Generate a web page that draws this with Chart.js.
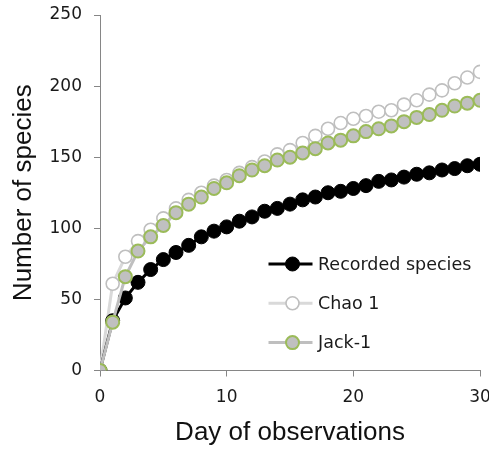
<!DOCTYPE html>
<html>
<head>
<meta charset="utf-8">
<script src="https://cdn.jsdelivr.net/npm/chart.js@4/dist/chart.umd.min.js"></script>
<style>
  html, body { margin: 0; padding: 0; background: #fff; overflow: hidden; }
  #wrap { width: 500px; height: 450px; position: relative; }
</style>
</head>
<body>
<div id="wrap"><canvas id="c" width="500" height="450"></canvas></div>
<script>
// Observation days
const days = [0, 1, 2, 3, 4, 5, 6, 7, 8, 9, 10, 11, 12, 13, 14, 15, 16, 17, 18, 19, 20,
              21, 22, 23, 24, 25, 26, 27, 28, 29, 30];

// Cumulative number of species recorded
const recorded = [0, 35, 51, 62, 71, 78, 83, 88, 94, 98, 101, 105, 108, 112, 114, 117, 120, 122, 125, 126, 128,
                  130, 133, 134, 136, 138, 139, 141, 142, 144, 145];

// Chao 1 richness estimator
const chao1 = [0, 61, 80, 91, 99, 107, 114, 120, 125, 130, 134, 139, 143, 147, 152, 155, 160, 165, 170, 174, 177,
               179, 182, 183, 187, 190, 194, 197, 202, 206, 210];

// First-order jackknife estimator
const jack1 = [0, 34, 66, 84, 94, 102, 111, 117, 122, 128, 132, 137, 141, 144, 148, 150, 153, 156, 160, 162, 165,
               168, 170, 172, 175, 178, 180, 183, 186, 188, 190];

const seriesNames = ['Recorded species', 'Chao 1', 'Jack-1'];
const xTicks = [0, 10, 20, 30];
const yTicks = [0, 50, 100, 150, 200, 250];

const toPoints = vals => days.map((d, i) => ({ x: d, y: vals[i] }));

// Legend drawn inside the plot: line sample with the marker on it, then the name
const insideLegend = {
  id: 'insideLegend',
  afterDatasetsDraw(chart) {
    const ctx = chart.ctx;
    const a = chart.chartArea;
    ctx.save();
    chart.data.datasets.forEach((ds, i) => {
      const y = a.top + 249 + i * 39.3;
      const x0 = a.left + 168.5;
      ctx.beginPath();
      ctx.moveTo(x0, y);
      ctx.lineTo(x0 + 44, y);
      ctx.strokeStyle = ds.borderColor;
      ctx.lineWidth = ds.borderWidth;
      ctx.stroke();
      ctx.beginPath();
      ctx.arc(x0 + 24, y, ds.pointRadius, 0, Math.PI * 2);
      ctx.fillStyle = ds.pointBackgroundColor;
      ctx.fill();
      ctx.lineWidth = ds.pointBorderWidth;
      ctx.strokeStyle = ds.pointBorderColor;
      ctx.stroke();
      ctx.fillStyle = '#1a1a1a';
      ctx.font = '17.5px "DejaVu Sans"';
      ctx.textBaseline = 'middle';
      ctx.textAlign = 'left';
      ctx.fillText(ds.label, x0 + 49.5, y + 1);
    });
    ctx.restore();
  }
};

const tickFont = { family: 'DejaVu Sans', size: 17 };
const axisGrey = '#868686';

new Chart(document.getElementById('c'), {
  type: 'line',
  data: {
    datasets: [
      {
        label: seriesNames[0],
        data: toPoints(recorded),
        borderColor: '#000000',
        borderWidth: 3,
        pointRadius: 7,
        pointBackgroundColor: '#000000',
        pointBorderColor: '#000000',
        pointBorderWidth: 1,
        order: 1
      },
      {
        label: seriesNames[1],
        data: toPoints(chao1),
        borderColor: '#d9d9d9',
        borderWidth: 3,
        pointRadius: 6.5,
        pointBackgroundColor: '#ffffff',
        pointBorderColor: '#bfbfbf',
        pointBorderWidth: 1.6,
        order: 2
      },
      {
        label: seriesNames[2],
        data: toPoints(jack1),
        borderColor: '#bfbfbf',
        borderWidth: 3,
        pointRadius: 6.5,
        pointBackgroundColor: '#c0c0c0',
        pointBorderColor: '#9bbb59',
        pointBorderWidth: 2,
        order: 0
      }
    ]
  },
  options: {
    responsive: false,
    animation: false,
    devicePixelRatio: 1,
    layout: { padding: { top: 15, right: 20, left: 0, bottom: 0 } },
    plugins: {
      legend: { display: false },
      tooltip: { enabled: false }
    },
    elements: { line: { tension: 0 } },
    scales: {
      x: {
        type: 'linear',
        min: 0,
        max: 30,
        afterBuildTicks(s) { s.ticks = xTicks.map(v => ({ value: v })); },
        ticks: { padding: 11, color: '#1a1a1a', font: tickFont },
        grid: { drawOnChartArea: false, tickLength: 6, color: axisGrey },
        border: { color: axisGrey },
        title: {
          display: true,
          text: 'Day of observations',
          color: '#111111',
          font: { family: 'Liberation Sans', size: 26 },
          padding: { top: 0, bottom: 2 }
        },
        afterFit(s) { s.height = 79.5; s.paddingLeft = 0; s.paddingRight = 0; }
      },
      y: {
        min: 0,
        max: 250,
        afterBuildTicks(s) { s.ticks = yTicks.map(v => ({ value: v })); },
        ticks: { padding: 12, color: '#1a1a1a', font: tickFont },
        grid: { drawOnChartArea: false, tickLength: 6, color: axisGrey },
        border: { color: axisGrey },
        title: {
          display: true,
          text: 'Number of species',
          color: '#111111',
          font: { family: 'Liberation Sans', size: 26 },
          padding: { top: 8, bottom: 0 }
        },
        afterFit(s) { s.width = 100; s.paddingTop = 0; s.paddingBottom = 0; }
      }
    }
  },
  plugins: [insideLegend]
});
</script>
</body>
</html>
